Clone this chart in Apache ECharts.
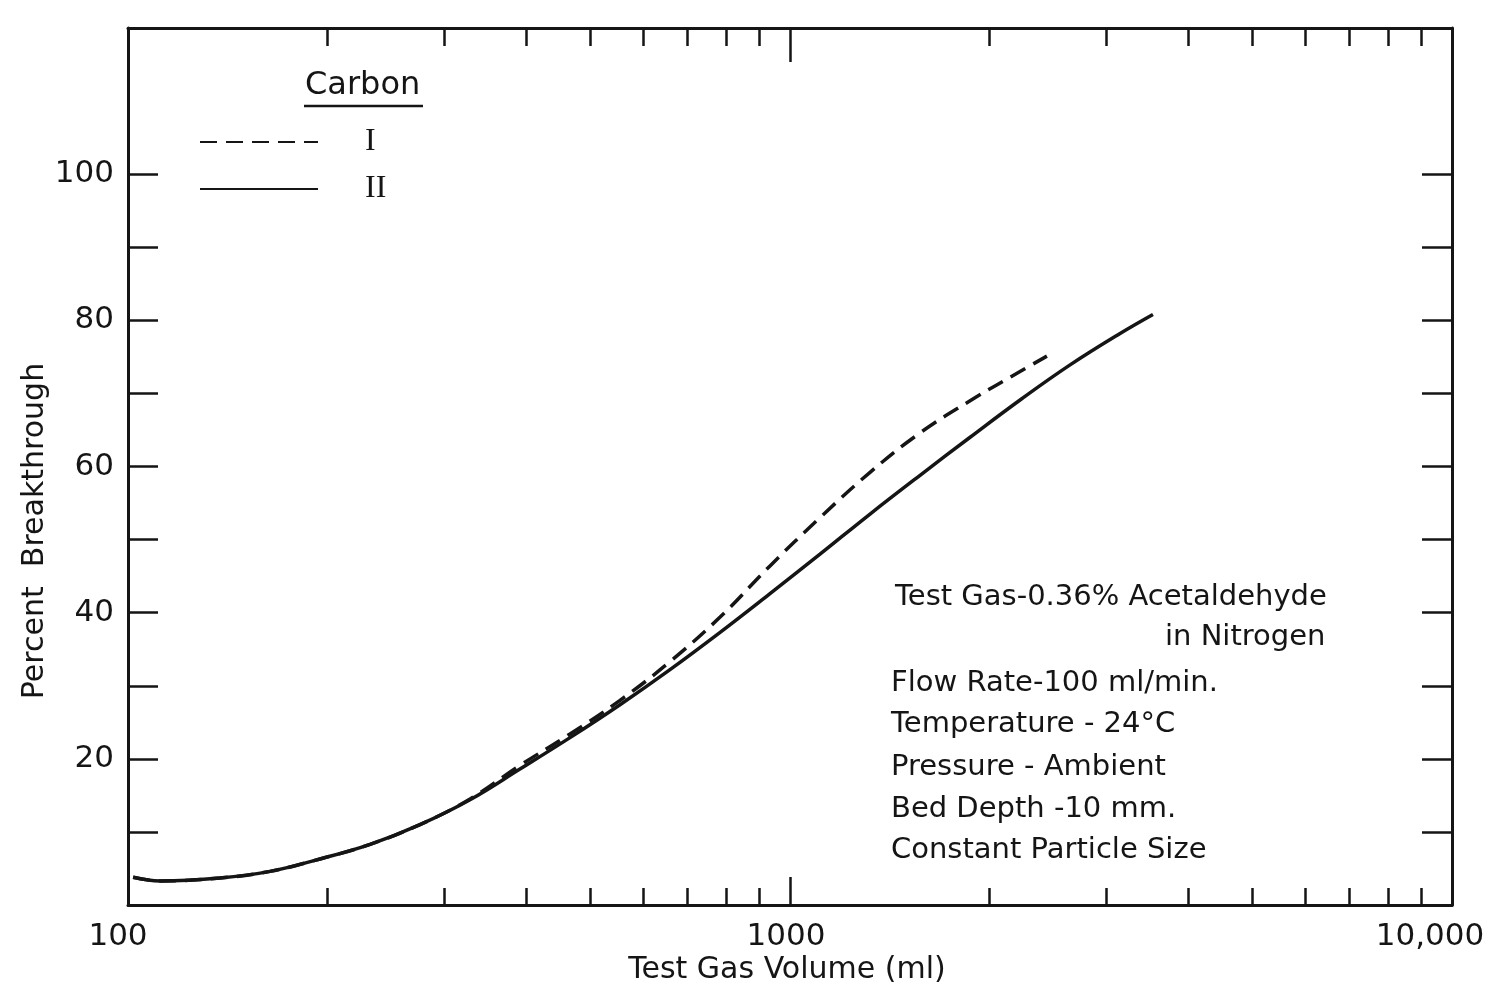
<!DOCTYPE html>
<html>
<head>
<meta charset="utf-8">
<script src="https://cdn.jsdelivr.net/npm/echarts@6/dist/echarts.min.js"></script>
<style>
  html, body { margin: 0; padding: 0; background: #fff; }
  #chart { width: 1489px; height: 986px; }
</style>
</head>
<body>
<div id="chart"></div>
<script>
// gas volume (ml) and percent breakthrough
const volumeII = [101.8, 111.8, 137.7, 163.9, 195, 232.1, 276.1, 328.6, 390.9, 465.3, 553.6, 658.8, 784.2, 932.8, 1110, 1321, 1572, 1871, 2226, 2649, 3152, 3534]
const breakII = [3.8, 3.3, 3.7, 4.6, 6.3, 8.3, 11.0, 14.4, 18.6, 22.9, 27.4, 32.2, 37.3, 42.6, 48.0, 53.5, 58.8, 64.0, 69.1, 73.9, 78.2, 80.8]

const volumeI = [101.8, 111.8, 137.7, 163.9, 195, 232.1, 276.1, 328.6, 390.9, 465.3, 553.6, 658.8, 784.2, 932.8, 1110, 1321, 1572, 1871, 2226, 2444]
const breakI = [3.8, 3.3, 3.7, 4.6, 6.3, 8.3, 11.0, 14.5, 19.1, 23.4, 28.0, 33.3, 39.4, 46.4, 53.0, 59.2, 64.6, 69.0, 73.0, 75.1]

const xLabels = [100, 1000, 10000]
const xMajorTicks = [1000]
const xMinorTicks = [200, 300, 400, 500, 600, 700, 800, 900, 2000, 3000, 4000, 5000, 6000, 7000, 8000, 9000]
const yTicks = [10, 20, 30, 40, 50, 60, 70, 80, 90, 100]
const yLabels = [20, 40, 60, 80, 100]

const notes = [
  { text: 'Test Gas-0.36% Acetaldehyde', x: 895, y: 597 },
  { text: 'in Nitrogen', x: 1165, y: 637 },
  { text: 'Flow Rate-100 ml/min.', x: 891, y: 683 },
  { text: 'Temperature - 24\u00b0C', x: 891, y: 724 },
  { text: 'Pressure - Ambient', x: 891, y: 767 },
  { text: 'Bed Depth -10 mm.', x: 891, y: 809 },
  { text: 'Constant Particle Size', x: 891, y: 850 }
]

const ink = '#151515'
const font = 'DejaVu Sans'

const chart = echarts.init(document.getElementById('chart'))

const logAxis = (extra) => Object.assign({
  type: 'log',
  logBase: 10,
  min: 100,
  max: 10000,
  gridIndex: 0,
  splitLine: { show: false },
  axisLabel: { show: false },
  axisLine: { show: false },
  axisTick: { show: false }
}, extra)

const option = {
  backgroundColor: '#fff',
  animation: false,
  grid: { left: 128, right: 37, top: 28, bottom: 81, outerBoundsMode: 'none' },
  legend: {
    orient: 'vertical',
    left: 194,
    top: 121,
    itemWidth: 118,
    itemHeight: 30,
    itemGap: 15,
    data: ['I', 'II'],
    itemStyle: { color: 'rgba(0,0,0,0)', borderWidth: 0 },
    textStyle: {
      fontFamily: 'Liberation Serif',
      fontSize: 32,
      color: ink,
      padding: [0, 0, 0, 42]
    }
  },
  xAxis: [
    logAxis({
      position: 'bottom',
      axisLine: { show: true, lineStyle: { color: ink, width: 3 } },
      axisTick: { show: true, inside: true, length: 28, customValues: xMajorTicks, lineStyle: { color: ink, width: 2.5 } },
      axisLabel: {
        show: true,
        customValues: xLabels,
        margin: 16,
        color: ink,
        formatter: v => (v === 10000 ? '{r|10,000}' : v === 100 ? '{l|100}' : '{m|' + v + '}'),
        rich: {
          l: { fontFamily: font, fontSize: 31, color: ink, padding: [0, 20, 0, 0] },
          m: { fontFamily: font, fontSize: 31, color: ink, padding: [0, 8, 0, 0] },
          r: { fontFamily: font, fontSize: 31, color: ink, padding: [0, 44, 0, 0] }
        }
      }
    }),
    logAxis({
      position: 'bottom',
      axisTick: { show: true, inside: true, length: 17, customValues: xMinorTicks, lineStyle: { color: ink, width: 2.5 } }
    }),
    logAxis({
      position: 'top',
      axisLine: { show: true, lineStyle: { color: ink, width: 3 } },
      axisTick: { show: true, inside: true, length: 34, customValues: xMajorTicks, lineStyle: { color: ink, width: 2.5 } }
    }),
    logAxis({
      position: 'top',
      axisTick: { show: true, inside: true, length: 18, customValues: xMinorTicks, lineStyle: { color: ink, width: 2.5 } }
    })
  ],
  yAxis: [
    {
      type: 'value',
      position: 'left',
      min: 0,
      max: 120,
      interval: 10,
      splitLine: { show: false },
      axisLine: { show: true, lineStyle: { color: ink, width: 3 } },
      axisTick: { show: true, inside: true, length: 30, customValues: yTicks, lineStyle: { color: ink, width: 2.5 } },
      axisLabel: { customValues: yLabels, margin: 14, fontFamily: font, fontSize: 31, color: ink }
    },
    {
      type: 'value',
      position: 'right',
      min: 0,
      max: 120,
      interval: 10,
      splitLine: { show: false },
      axisLine: { show: true, lineStyle: { color: ink, width: 3 } },
      axisTick: { show: true, inside: true, length: 30, customValues: yTicks, lineStyle: { color: ink, width: 2.5 } },
      axisLabel: { show: false }
    }
  ],
  series: [
    {
      name: 'I',
      type: 'line',
      symbol: 'none',
      smooth: 0.4,
      data: volumeI.map((v, i) => [v, breakI[i]]),
      lineStyle: { color: ink, width: 3.5, type: [17, 9] },
      itemStyle: { color: ink },
      z: 3
    },
    {
      name: 'II',
      type: 'line',
      symbol: 'none',
      smooth: 0.4,
      data: volumeII.map((v, i) => [v, breakII[i]]),
      lineStyle: { color: ink, width: 3.5 },
      itemStyle: { color: ink },
      z: 2
    }
  ],
  graphic: [
    {
      type: 'text',
      left: 305,
      top: 70,
      style: { text: 'Carbon', fontFamily: font, fontSize: 32, fill: ink }
    },
    {
      type: 'line',
      shape: { x1: 304, y1: 106, x2: 423, y2: 106 },
      style: { stroke: ink, lineWidth: 2.5 }
    },
    {
      type: 'text',
      x: 35,
      y: 531,
      rotation: Math.PI / 2,
      style: { text: 'Percent  Breakthrough', fontFamily: font, fontSize: 30, fill: ink, align: 'center', verticalAlign: 'middle' }
    },
    {
      type: 'text',
      x: 787,
      y: 970,
      style: { text: 'Test Gas Volume (ml)', fontFamily: font, fontSize: 30, fill: ink, align: 'center', verticalAlign: 'middle' }
    },
    ...notes.map(n => ({
      type: 'text',
      x: n.x,
      y: n.y,
      style: { text: n.text, fontFamily: font, fontSize: 29, fill: ink, verticalAlign: 'middle' }
    }))
  ]
}

chart.setOption(option)
</script>
</body>
</html>
